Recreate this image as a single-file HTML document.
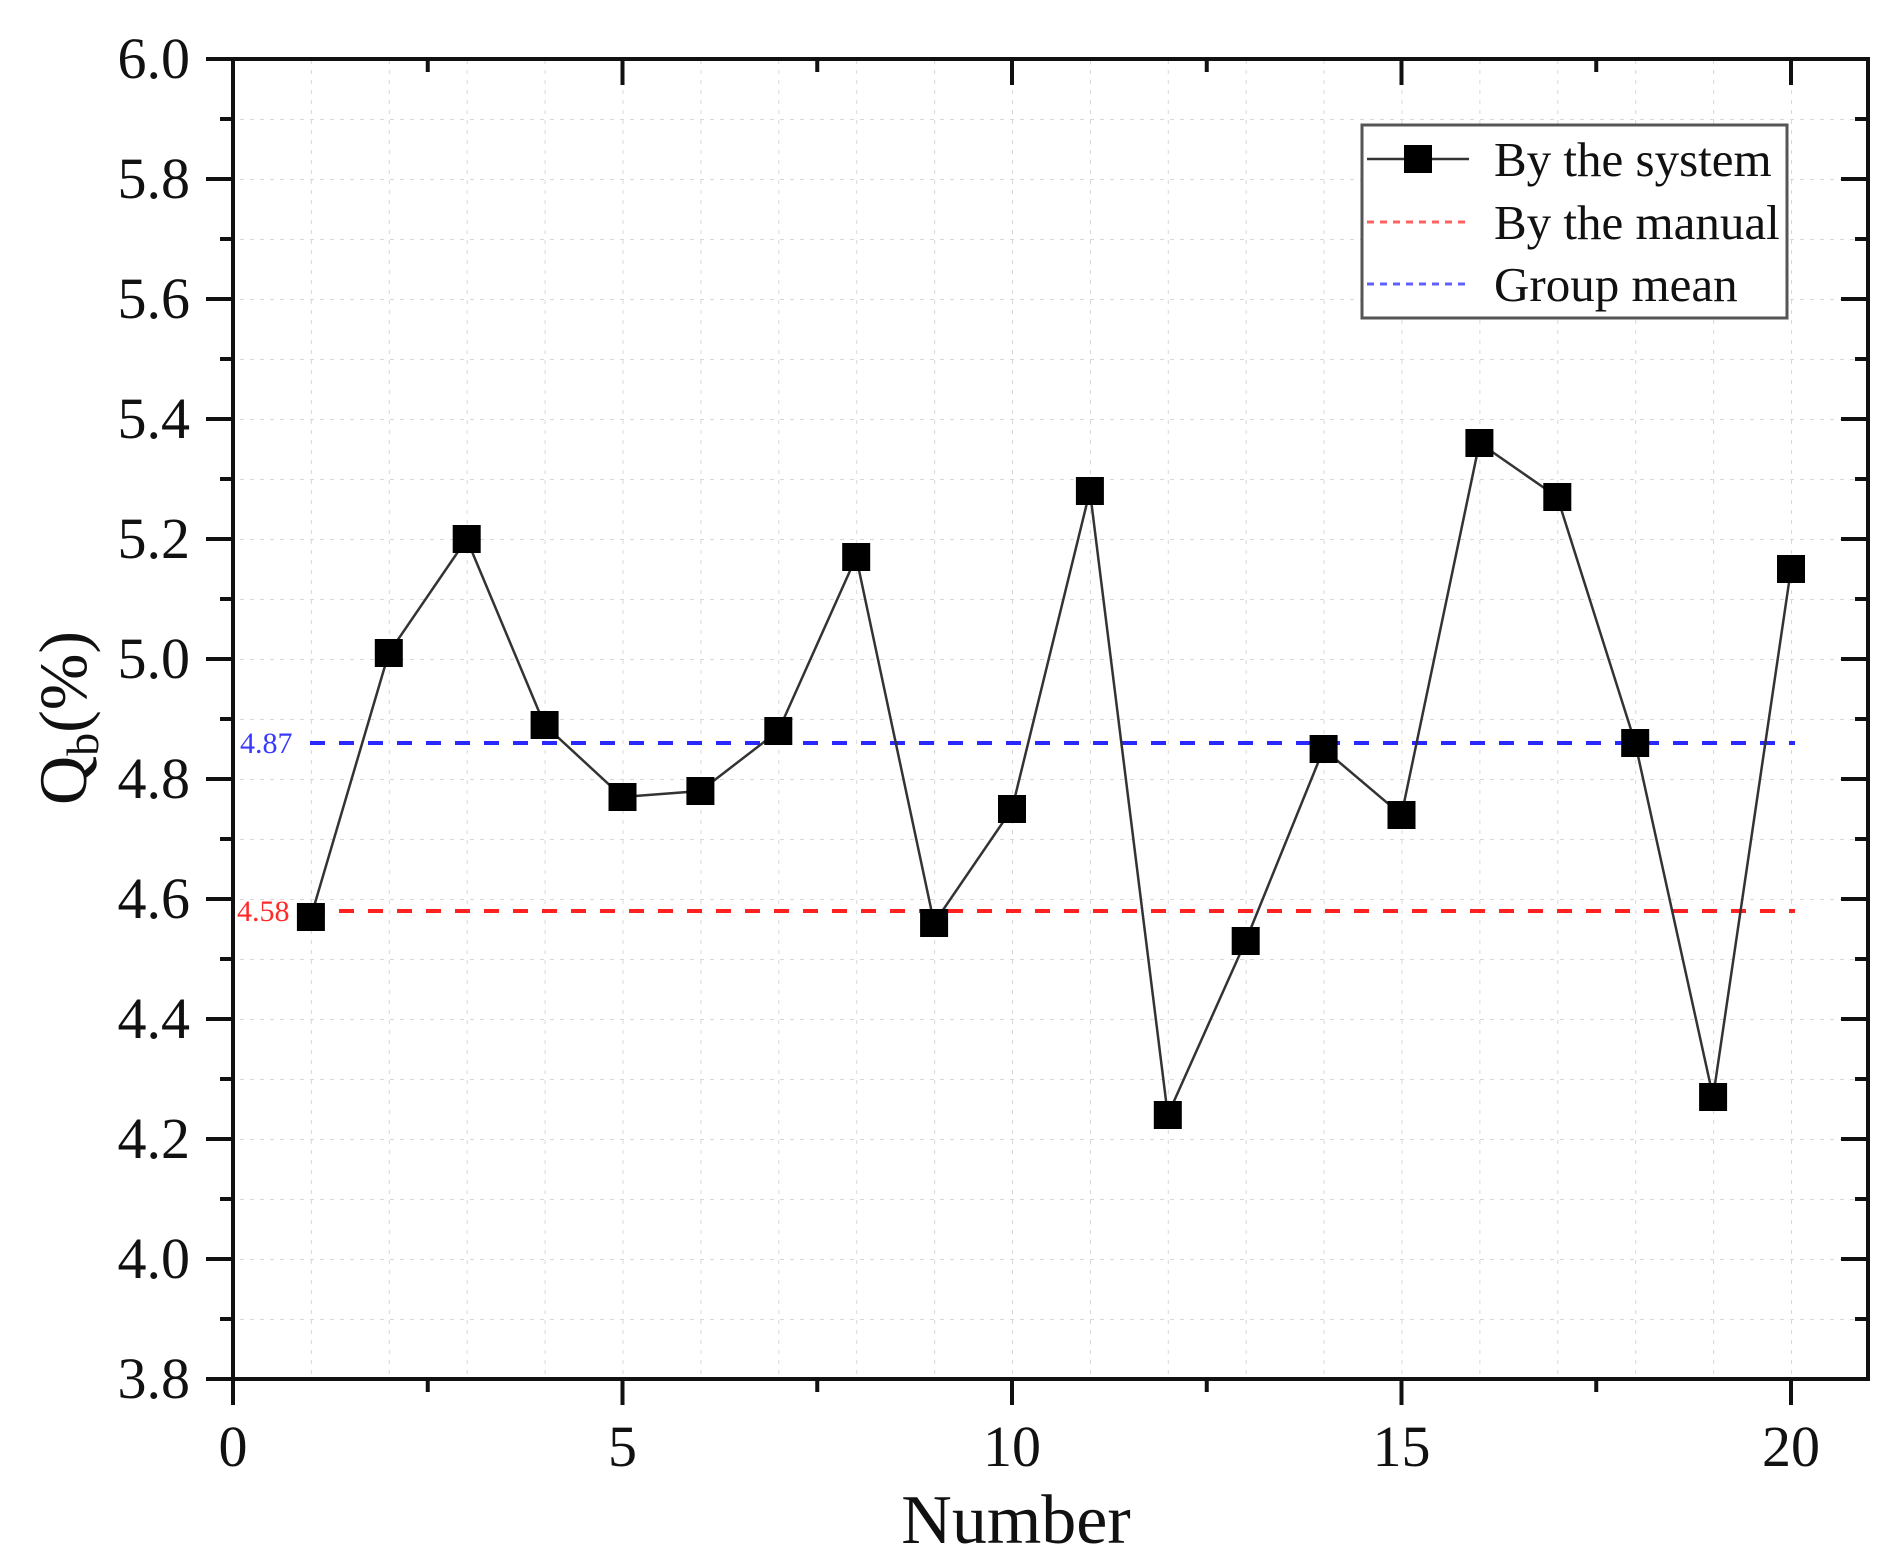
<!DOCTYPE html>
<html><head><meta charset="utf-8"><style>
html,body{margin:0;padding:0;background:#fff;}
svg{display:block;}
text{font-family:"Liberation Serif",serif;fill:#111;}
</style></head><body>
<svg width="1901" height="1568" viewBox="0 0 1901 1568" xmlns="http://www.w3.org/2000/svg">
<defs>
<pattern id="gv" x="233" y="0" width="77.9" height="1568" patternUnits="userSpaceOnUse">
<line x1="0" y1="0" x2="0" y2="1568" stroke="#d8d8d8" stroke-width="2" stroke-dasharray="4 6"/>
</pattern>
<pattern id="gh" x="0" y="59" width="1901" height="60" patternUnits="userSpaceOnUse">
<line x1="0" y1="0" x2="1901" y2="0" stroke="#d8d8d8" stroke-width="2" stroke-dasharray="4 6"/>
</pattern>
</defs>
<rect x="233" y="59" width="1635" height="1320" fill="url(#gv)"/>
<rect x="233" y="59" width="1635" height="1320" fill="url(#gh)"/>

<line x1="310" y1="743" x2="1795" y2="743" stroke="#2828ff" stroke-width="4" stroke-dasharray="15 14"/>
<line x1="310" y1="911" x2="1795" y2="911" stroke="#ff2020" stroke-width="4" stroke-dasharray="15 14"/>
<text x="240" y="753" font-size="30" style="fill:#3a3aff">4.87</text>
<text x="237" y="921" font-size="30" style="fill:#ff2a2a">4.58</text>

<polyline fill="none" stroke="#333" stroke-width="2.5" points="310.9,917 388.8,653 466.7,539 544.6,725 622.5,797 700.4,791 778.3,731 856.2,557 934.1,923 1012,809 1089.9,491 1167.8,1115 1245.7,941 1323.6,749 1401.5,815 1479.4,443 1557.3,497 1635.2,743 1713.1,1097 1791,569"/>
<g fill="#000">
<rect x="296.9" y="903" width="28" height="28"/>
<rect x="374.8" y="639" width="28" height="28"/>
<rect x="452.7" y="525" width="28" height="28"/>
<rect x="530.6" y="711" width="28" height="28"/>
<rect x="608.5" y="783" width="28" height="28"/>
<rect x="686.4" y="777" width="28" height="28"/>
<rect x="764.3" y="717" width="28" height="28"/>
<rect x="842.2" y="543" width="28" height="28"/>
<rect x="920.1" y="909" width="28" height="28"/>
<rect x="998" y="795" width="28" height="28"/>
<rect x="1075.9" y="477" width="28" height="28"/>
<rect x="1153.8" y="1101" width="28" height="28"/>
<rect x="1231.7" y="927" width="28" height="28"/>
<rect x="1309.6" y="735" width="28" height="28"/>
<rect x="1387.5" y="801" width="28" height="28"/>
<rect x="1465.4" y="429" width="28" height="28"/>
<rect x="1543.3" y="483" width="28" height="28"/>
<rect x="1621.2" y="729" width="28" height="28"/>
<rect x="1699.1" y="1083" width="28" height="28"/>
<rect x="1777" y="555" width="28" height="28"/>
</g>

<rect x="233" y="59" width="1635" height="1320" fill="none" stroke="#111" stroke-width="4"/>

<g stroke="#111" stroke-width="4">
<line x1="206" y1="59" x2="233" y2="59"/><line x1="206" y1="179" x2="233" y2="179"/><line x1="206" y1="299" x2="233" y2="299"/><line x1="206" y1="419" x2="233" y2="419"/><line x1="206" y1="539" x2="233" y2="539"/><line x1="206" y1="659" x2="233" y2="659"/><line x1="206" y1="779" x2="233" y2="779"/><line x1="206" y1="899" x2="233" y2="899"/><line x1="206" y1="1019" x2="233" y2="1019"/><line x1="206" y1="1139" x2="233" y2="1139"/><line x1="206" y1="1259" x2="233" y2="1259"/><line x1="206" y1="1379" x2="233" y2="1379"/>
<line x1="220" y1="119" x2="233" y2="119"/><line x1="220" y1="239" x2="233" y2="239"/><line x1="220" y1="359" x2="233" y2="359"/><line x1="220" y1="479" x2="233" y2="479"/><line x1="220" y1="599" x2="233" y2="599"/><line x1="220" y1="719" x2="233" y2="719"/><line x1="220" y1="839" x2="233" y2="839"/><line x1="220" y1="959" x2="233" y2="959"/><line x1="220" y1="1079" x2="233" y2="1079"/><line x1="220" y1="1199" x2="233" y2="1199"/><line x1="220" y1="1319" x2="233" y2="1319"/>
<line x1="1841" y1="179" x2="1868" y2="179"/><line x1="1841" y1="299" x2="1868" y2="299"/><line x1="1841" y1="419" x2="1868" y2="419"/><line x1="1841" y1="539" x2="1868" y2="539"/><line x1="1841" y1="659" x2="1868" y2="659"/><line x1="1841" y1="779" x2="1868" y2="779"/><line x1="1841" y1="899" x2="1868" y2="899"/><line x1="1841" y1="1019" x2="1868" y2="1019"/><line x1="1841" y1="1139" x2="1868" y2="1139"/><line x1="1841" y1="1259" x2="1868" y2="1259"/>
<line x1="1855" y1="119" x2="1868" y2="119"/><line x1="1855" y1="239" x2="1868" y2="239"/><line x1="1855" y1="359" x2="1868" y2="359"/><line x1="1855" y1="479" x2="1868" y2="479"/><line x1="1855" y1="599" x2="1868" y2="599"/><line x1="1855" y1="719" x2="1868" y2="719"/><line x1="1855" y1="839" x2="1868" y2="839"/><line x1="1855" y1="959" x2="1868" y2="959"/><line x1="1855" y1="1079" x2="1868" y2="1079"/><line x1="1855" y1="1199" x2="1868" y2="1199"/><line x1="1855" y1="1319" x2="1868" y2="1319"/>
<line x1="233" y1="1379" x2="233" y2="1405"/><line x1="622.5" y1="1379" x2="622.5" y2="1405"/><line x1="1012" y1="1379" x2="1012" y2="1405"/><line x1="1401.5" y1="1379" x2="1401.5" y2="1405"/><line x1="1791" y1="1379" x2="1791" y2="1405"/>
<line x1="427.75" y1="1379" x2="427.75" y2="1392"/><line x1="817.25" y1="1379" x2="817.25" y2="1392"/><line x1="1206.75" y1="1379" x2="1206.75" y2="1392"/><line x1="1596.25" y1="1379" x2="1596.25" y2="1392"/>
<line x1="622.5" y1="59" x2="622.5" y2="85"/><line x1="1012" y1="59" x2="1012" y2="85"/><line x1="1401.5" y1="59" x2="1401.5" y2="85"/><line x1="1791" y1="59" x2="1791" y2="85"/>
<line x1="427.75" y1="59" x2="427.75" y2="72"/><line x1="817.25" y1="59" x2="817.25" y2="72"/><line x1="1206.75" y1="59" x2="1206.75" y2="72"/><line x1="1596.25" y1="59" x2="1596.25" y2="72"/>
</g>

<g font-size="58" text-anchor="end">
<text x="190" y="78">6.0</text><text x="190" y="198">5.8</text><text x="190" y="318">5.6</text><text x="190" y="438">5.4</text><text x="190" y="558">5.2</text><text x="190" y="678">5.0</text><text x="190" y="798">4.8</text><text x="190" y="918">4.6</text><text x="190" y="1038">4.4</text><text x="190" y="1158">4.2</text><text x="190" y="1278">4.0</text><text x="190" y="1398">3.8</text>
</g>
<g font-size="58" text-anchor="middle">
<text x="233" y="1466">0</text><text x="622.5" y="1466">5</text><text x="1012" y="1466">10</text><text x="1401.5" y="1466">15</text><text x="1791" y="1466">20</text>
</g>
<text x="1016" y="1543" font-size="70" text-anchor="middle">Number</text>
<text transform="translate(86,718) rotate(-90)" font-size="68" text-anchor="middle">Q<tspan font-size="46" dy="12">b</tspan><tspan dy="-12">(%)</tspan></text>

<rect x="1362" y="125" width="425" height="193" fill="#fff" stroke="#555" stroke-width="3"/>
<line x1="1367" y1="159" x2="1469" y2="159" stroke="#333" stroke-width="2.5"/>
<rect x="1404" y="145" width="28" height="28" fill="#000"/>
<line x1="1367" y1="222" x2="1469" y2="222" stroke="#ff6060" stroke-width="3" stroke-dasharray="7 6"/>
<line x1="1367" y1="284" x2="1469" y2="284" stroke="#6060ff" stroke-width="3" stroke-dasharray="7 6"/>
<g font-size="49">
<text x="1494" y="176">By the system</text>
<text x="1494" y="239">By the manual</text>
<text x="1494" y="301">Group mean</text>
</g>
</svg>
</body></html>
